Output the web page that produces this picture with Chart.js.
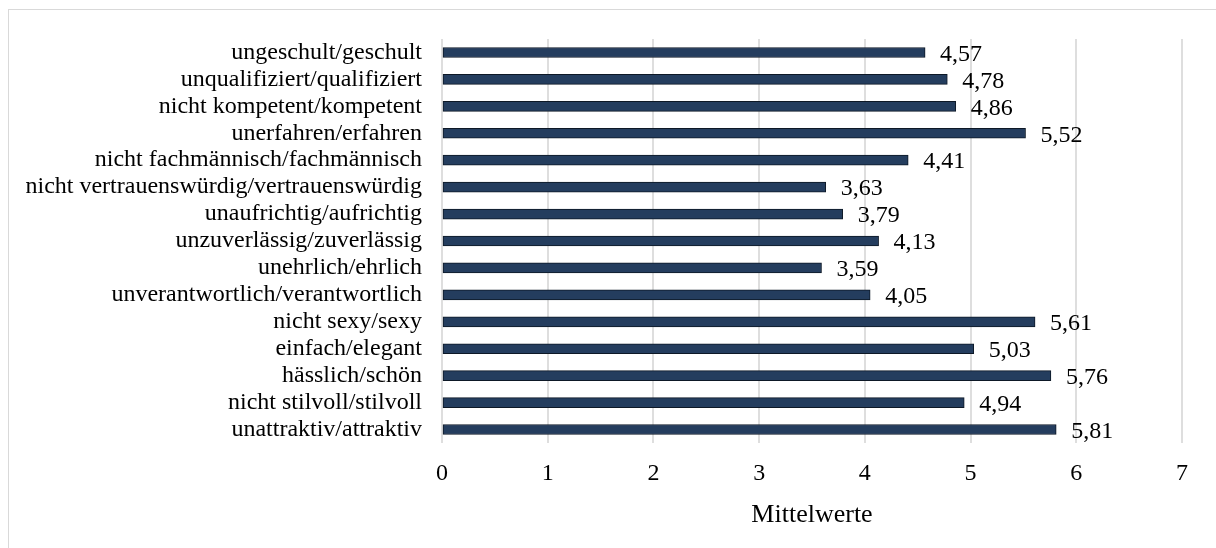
<!DOCTYPE html>
<html>
<head>
<meta charset="utf-8">
<script src="https://cdn.jsdelivr.net/npm/chart.js@4"></script>
<style>
  html, body { margin: 0; padding: 0; background: #fff; overflow: hidden; }
  #wrap { position: relative; width: 1216px; height: 548px; }
  #frame { position: absolute; left: 8px; top: 9px; width: 1400px; height: 800px; border: 1px solid #d9d9d9; }
  canvas { position: absolute; left: 0; top: 0; }
</style>
</head>
<body>
<div id="wrap">
  <div id="frame"></div>
  <canvas id="chart" width="1216" height="548"></canvas>
</div>
<script>
const labels = [
    'ungeschult/geschult',
    'unqualifiziert/qualifiziert',
    'nicht kompetent/kompetent',
    'unerfahren/erfahren',
    'nicht fachmännisch/fachmännisch',
    'nicht vertrauenswürdig/vertrauenswürdig',
    'unaufrichtig/aufrichtig',
    'unzuverlässig/zuverlässig',
    'unehrlich/ehrlich',
    'unverantwortlich/verantwortlich',
    'nicht sexy/sexy',
    'einfach/elegant',
    'hässlich/schön',
    'nicht stilvoll/stilvoll',
    'unattraktiv/attraktiv'
];
const means = [4.57, 4.78, 4.86, 5.52, 4.41, 3.63, 3.79, 4.13, 3.59, 4.05, 5.61, 5.03, 5.76, 4.94, 5.81];
const axisTitle = 'Mittelwerte';

const serif = "'Liberation Serif', 'Times New Roman', serif";

// value labels right of each bar, german decimal comma
const valueLabels = {
    id: 'valueLabels',
    afterDatasetsDraw(chart) {
        const ctx = chart.ctx;
        const meta = chart.getDatasetMeta(0);
        ctx.save();
        ctx.font = '24px ' + serif;
        ctx.fillStyle = '#000';
        ctx.textAlign = 'left';
        ctx.textBaseline = 'middle';
        meta.data.forEach((bar, i) => {
            const txt = means[i].toFixed(2).replace('.', ',');
            ctx.fillText(txt, bar.x + 15, bar.y + 2);
        });
        ctx.restore();
    }
};

new Chart(document.getElementById('chart').getContext('2d'), {
    type: 'bar',
    data: {
        labels: labels,
        datasets: [{
            data: means,
            backgroundColor: '#243d5e',
            borderColor: '#0d1826',
            borderWidth: 1,
            borderSkipped: false,
            barThickness: 10
        }]
    },
    options: {
        indexAxis: 'y',
        responsive: false,
        animation: false,
        layout: { padding: { top: 39, right: 34, left: 0, bottom: 0 } },
        plugins: {
            legend: { display: false },
            tooltip: { enabled: false }
        },
        scales: {
            x: {
                min: 0,
                max: 7,
                afterFit: s => { s.height = 105; },
                ticks: { stepSize: 1, color: '#000', padding: 16, font: { family: serif, size: 24 } },
                grid: { color: '#dedede', lineWidth: 2, drawTicks: false },
                border: { display: false },
                title: {
                    display: true,
                    text: axisTitle,
                    color: '#000',
                    font: { family: serif, size: 26 },
                    padding: { top: 0, bottom: 17 }
                }
            },
            y: {
                afterFit: s => { s.width = 442; },
                ticks: { color: '#000', padding: 12, autoSkip: false, font: { family: serif, size: 24 } },
                grid: { display: false },
                border: { display: false }
            }
        }
    },
    plugins: [valueLabels]
});
</script>
</body>
</html>
